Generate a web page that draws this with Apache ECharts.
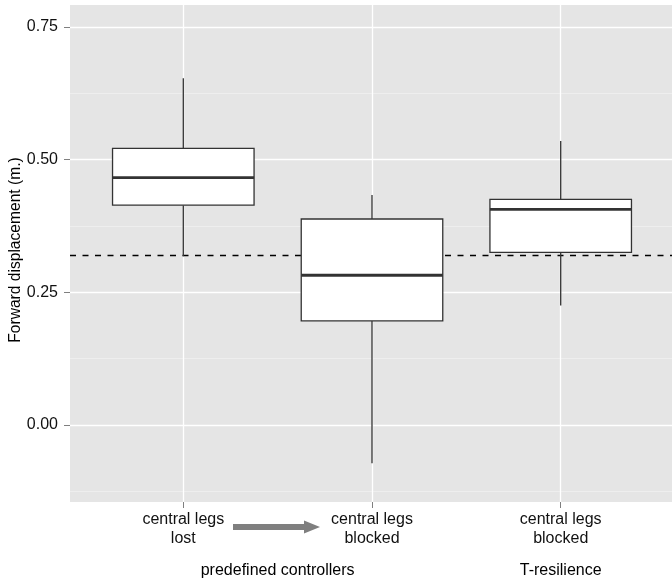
<!DOCTYPE html>
<html>
<head>
<meta charset="utf-8">
<script src="https://cdn.jsdelivr.net/npm/echarts@6/dist/echarts.min.js"></script>
<style>html,body{margin:0;padding:0;background:#fff;}#c{width:672px;height:582px;}</style>
</head>
<body>
<div id="c"></div>
<script>
// ---- data ----
const categories = ['central legs\nlost', 'central legs\nblocked', 'central legs\nblocked'];
const groupLabels = ['predefined controllers', 'T-resilience'];
const whiskerLow = [0.318, -0.072, 0.225];
const q1 = [0.414, 0.196, 0.325];
const median = [0.466, 0.282, 0.406];
const q3 = [0.521, 0.388, 0.425];
const whiskerHigh = [0.653, 0.433, 0.535];
const referenceLine = 0.318;
const yTicks = [0, 0.25, 0.5, 0.75];
const yMinorTicks = [-0.125, 0.125, 0.375, 0.625];
const yMin = -0.145, yMax = 0.791;

const FONT = 'Liberation Sans, Arial, Helvetica, sans-serif';
const chart = echarts.init(document.getElementById('c'), null, {renderer: 'canvas'});

const panelLeft = 70, panelRight = 0, panelTop = 5, panelBottom = 80;
const catLeft = 183.3, catRight = 672 - 560.7;
const boxData = categories.map((c, i) => [i, whiskerLow[i], q1[i], median[i], q3[i], whiskerHigh[i]]);
const ink = '#333333';

const option = {
  animation: false,
  grid: [
    {left: panelLeft, right: panelRight, top: panelTop, bottom: panelBottom, show: true, backgroundColor: '#E5E5E5', borderWidth: 0, containLabel: false},
    {left: catLeft, right: catRight, top: panelTop, bottom: panelBottom, show: false, containLabel: false}
  ],
  xAxis: [
    {gridIndex: 0, type: 'value', min: 0, max: 1, show: false},
    {gridIndex: 1, type: 'category', data: categories, boundaryGap: false, position: 'bottom',
      axisLine: {show: false, onZero: false},
      axisTick: {show: true, length: 6, lineStyle: {color: '#7F7F7F', width: 1}},
      axisLabel: {show: true, margin: 8, fontSize: 16, lineHeight: 19, color: '#111', fontFamily: FONT, interval: 0, align: 'center'},
      splitLine: {show: true, lineStyle: {color: '#FFFFFF', width: 1.3}}
    }
  ],
  yAxis: [
    {gridIndex: 0, type: 'value', min: yMin, max: yMax,
      axisLine: {show: false},
      axisTick: {show: true, length: 6, lineStyle: {color: '#7F7F7F', width: 1}, customValues: yTicks},
      axisLabel: {show: true, margin: 12, fontSize: 16, color: '#111', fontFamily: FONT, customValues: yTicks, formatter: v => Number(v).toFixed(2)},
      splitLine: {show: true, lineStyle: {color: '#FFFFFF', width: 1.3}}
    },
    {gridIndex: 0, type: 'value', min: yMin, max: yMax, position: 'left',
      axisLine: {show: false},
      axisTick: {show: false, customValues: yMinorTicks},
      axisLabel: {show: false, customValues: yMinorTicks},
      splitLine: {show: true, lineStyle: {color: '#F2F2F2', width: 0.7}}
    },
    {gridIndex: 1, type: 'value', min: yMin, max: yMax, show: false, splitLine: {show: false}}
  ],
  series: [
    {type: 'line', xAxisIndex: 0, yAxisIndex: 0, data: [], z: 2,
      markLine: {silent: true, symbol: ['none', 'none'], label: {show: false},
        lineStyle: {type: [6, 6.5], color: '#000', width: 1.3},
        data: [{yAxis: referenceLine}]}
    },
    {type: 'custom', xAxisIndex: 1, yAxisIndex: 2, z: 5, clip: false, data: boxData,
      renderItem: function (params, api) {
        const x = api.value(0);
        const pLo = api.coord([x, api.value(1)]);
        const pQ1 = api.coord([x, api.value(2)]);
        const pMed = api.coord([x, api.value(3)]);
        const pQ3 = api.coord([x, api.value(4)]);
        const pHi = api.coord([x, api.value(5)]);
        const w = api.size([1, 0])[0] * 0.75;
        const cx = pMed[0];
        const st = {stroke: ink, lineWidth: 1.3, fill: null};
        return {type: 'group', children: [
          {type: 'line', shape: {x1: cx, y1: pHi[1], x2: cx, y2: pQ3[1]}, style: st},
          {type: 'line', shape: {x1: cx, y1: pQ1[1], x2: cx, y2: pLo[1]}, style: st},
          {type: 'rect', shape: {x: cx - w / 2, y: pQ3[1], width: w, height: pQ1[1] - pQ3[1]}, style: {fill: '#FFFFFF', stroke: ink, lineWidth: 1.3}},
          {type: 'line', shape: {x1: cx - w / 2, y1: pMed[1], x2: cx + w / 2, y2: pMed[1]}, style: {stroke: ink, lineWidth: 2.8}}
        ]};
      }
    }
  ]
};
chart.setOption(option);

// annotations: arrow, group labels, y axis title
const c0 = chart.convertToPixel({xAxisIndex: 1}, 0);
const c1 = chart.convertToPixel({xAxisIndex: 1}, 1);
const c2 = chart.convertToPixel({xAxisIndex: 1}, 2);
const ay = 527;
chart.setOption({
  graphic: [
    {type: 'polygon', shape: {points: [[233, ay - 3], [304, ay - 3], [304, ay - 6.5], [320, ay], [304, ay + 6.5], [304, ay + 3], [233, ay + 3]]}, style: {fill: '#7F7F7F'}},
    {type: 'text', x: (c0 + c1) / 2, y: 571, style: {text: groupLabels[0], fontSize: 16, fontFamily: FONT, fill: '#000', align: 'center', verticalAlign: 'middle'}},
    {type: 'text', x: c2, y: 571, style: {text: groupLabels[1], fontSize: 16, fontFamily: FONT, fill: '#000', align: 'center', verticalAlign: 'middle'}},
    {type: 'text', x: 16, y: 250, rotation: Math.PI / 2, style: {text: 'Forward displacement (m.)', fontSize: 15.6, fontFamily: FONT, fill: '#000', align: 'center', verticalAlign: 'middle'}}
  ]
});
</script>
</body>
</html>
